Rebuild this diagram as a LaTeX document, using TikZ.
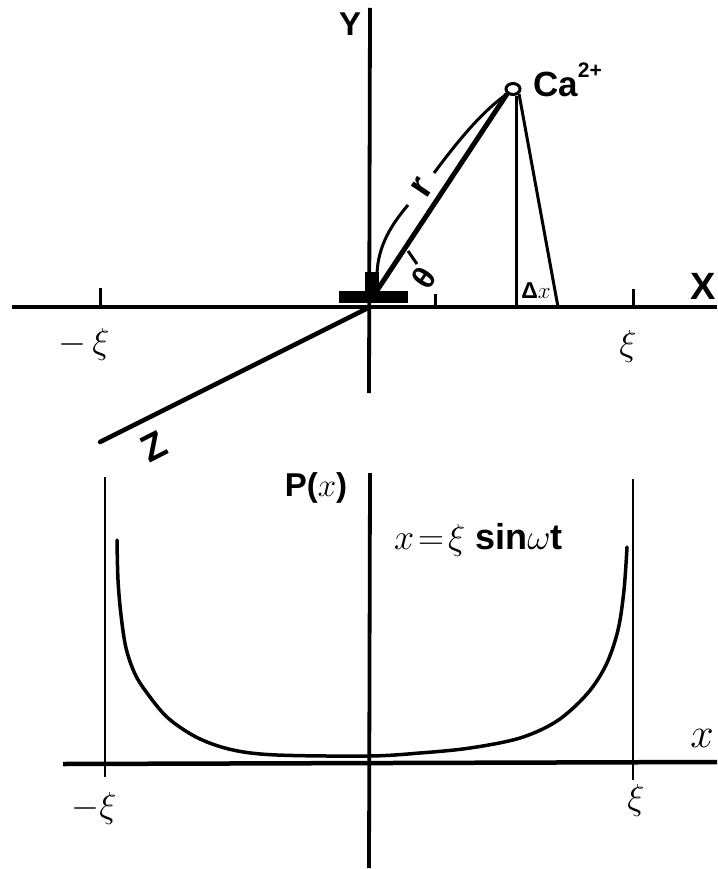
\RequirePackage{fix-cm}
\documentclass[tikz,border=0pt]{standalone}
\usepackage{fontspec}
\setmainfont{Liberation Sans}
\usetikzlibrary{shapes.geometric}
\begin{document}
\begin{tikzpicture}[x=1pt,y=-1pt,
  axis/.style={line width=4.5pt},
  thinax/.style={line width=2.5pt},
  thinln/.style={line width=3pt},
  lbl/.style={inner sep=0pt,font=\bfseries\fontsize{33}{35}\selectfont},
  xil/.style={inner sep=0pt,font=\fontsize{36}{38}\selectfont},
  curve/.style={line width=3.5pt,line cap=round}]
\useasboundingbox (0,0) rectangle (717,869);
% ---------- top diagram ----------
\coordinate (O) at (370,307);
\coordinate (Ytop) at (370,8);
\coordinate (Ybot) at (369,393);
\coordinate (Xl) at (12,307);
\coordinate (Xr) at (717,307);
\draw[line width=3.8pt] (Ytop) -- (Ybot);
\draw[axis] (Xl) -- (Xr);
\node[lbl] (Y) at (350,24) {Y};
\node[lbl,font=\bfseries\fontsize{38}{40}\selectfont] (X) at (703,286) {X};
% sensor
\fill (339,291) rectangle (408,303);
\fill (365,272) rectangle (379,292);
% Z axis
\coordinate (Zend) at (100,442);
\draw[line width=4.5pt,line cap=round] (O) -- (Zend);
\node[lbl,rotate=27,font=\bfseries\fontsize{38}{40}\selectfont] (Z) at (154,447) {Z};
% ticks
\coordinate (tm1) at (100,288); \coordinate (tm2) at (100,307);
\coordinate (tp1) at (633,289); \coordinate (tp2) at (633,307);
\coordinate (tt1) at (435,294); \coordinate (tt2) at (435,307);
\draw[thinln] (tm1) -- (tm2);
\draw[thinln] (tp1) -- (tp2);
\draw[thinln] (tt1) -- (tt2);
\node[xil] (mxi) at (84,344) {$-\,\xi$};
\node[xil] (pxi) at (628,346) {$\xi$};
% Ca ion
\node[draw,line width=3pt,ellipse,minimum width=14pt,minimum height=11pt,inner sep=0pt,fill=white] (Ca) at (513,89) {};
\node[lbl,anchor=base west,font=\bfseries\fontsize{35}{37}\selectfont] (Calbl) at (533,97) {Ca\raisebox{19pt}{\fontsize{21}{22}\selectfont 2+}};
% r line and arc
\coordinate (S) at (376,292);
\draw[line width=5pt] (S) -- (Ca.south west);
\coordinate (a0) at (377,274);
\coordinate (a1) at (408,205);
\coordinate (a2) at (434,173);
\draw[thinln] (a0) .. controls (378,245) and (392,224) .. (a1);
\draw[thinln] (a2) .. controls (455,145) and (480,113) .. (Ca.south west);
\node[lbl,rotate=56,font=\bfseries\fontsize{38}{40}\selectfont] (r) at (422,188) {r};
% theta
\coordinate (th1) at (408,251); \coordinate (th2) at (417,264);
\draw[thinln] (th1) -- (th2);
\node[lbl,rotate=56,font=\bfseries\fontsize{32}{34}\selectfont] (theta) at (424,278) {θ};
% delta x
\coordinate (v0) at (516,307);
\coordinate (s0) at (558,307);
\draw[thinln] (Ca.south) ++(3,0) coordinate (cb) -- (cb |- v0);
\draw[thinln] (Ca.south east) -- (s0);
\node[inner sep=0pt,font=\fontsize{23}{24}\selectfont] (dx) at (536,291) {\textbf{Δ}$x$};
% ---------- bottom diagram ----------
\coordinate (Ptop) at (370,473);
\coordinate (Pbot) at (369,868);
\coordinate (Hl) at (63,764);
\coordinate (Hr) at (717,762);
\draw[line width=3.8pt] (Ptop) -- (Pbot);
\draw[axis] (Hl) -- (Hr);
\coordinate (L1) at (105,477); \coordinate (L2) at (105,777);
\coordinate (R1) at (633,479); \coordinate (R2) at (633,780);
\draw[thinax] (L1) -- (L2);
\draw[thinax] (R1) -- (R2);
\draw[curve] plot[smooth,tension=0.55] coordinates {
 (117,540) (118,580) (121,615) (126,648) (135,674) (147,693) (168,718)
 (198,738) (233,750) (277,755) (369,756) (420,753) (470,748) (520,738)
 (557,721) (587,694) (606,665) (618,630) (624,590) (627,547)};
\node[lbl] (Px) at (316,488) {P($x$)};
\node[xil,anchor=west] (eq) at (394,540) {$x\!=\!\xi$\ \textbf{sin}$\omega$\textbf{t}};
\node[inner sep=0pt,font=\fontsize{42}{44}\selectfont] (xl) at (702,738) {$x$};
\node[xil] (mxi2) at (94,808) {$-\xi$};
\node[xil] (pxi2) at (636,800) {$\xi$};
\end{tikzpicture}
\end{document}
